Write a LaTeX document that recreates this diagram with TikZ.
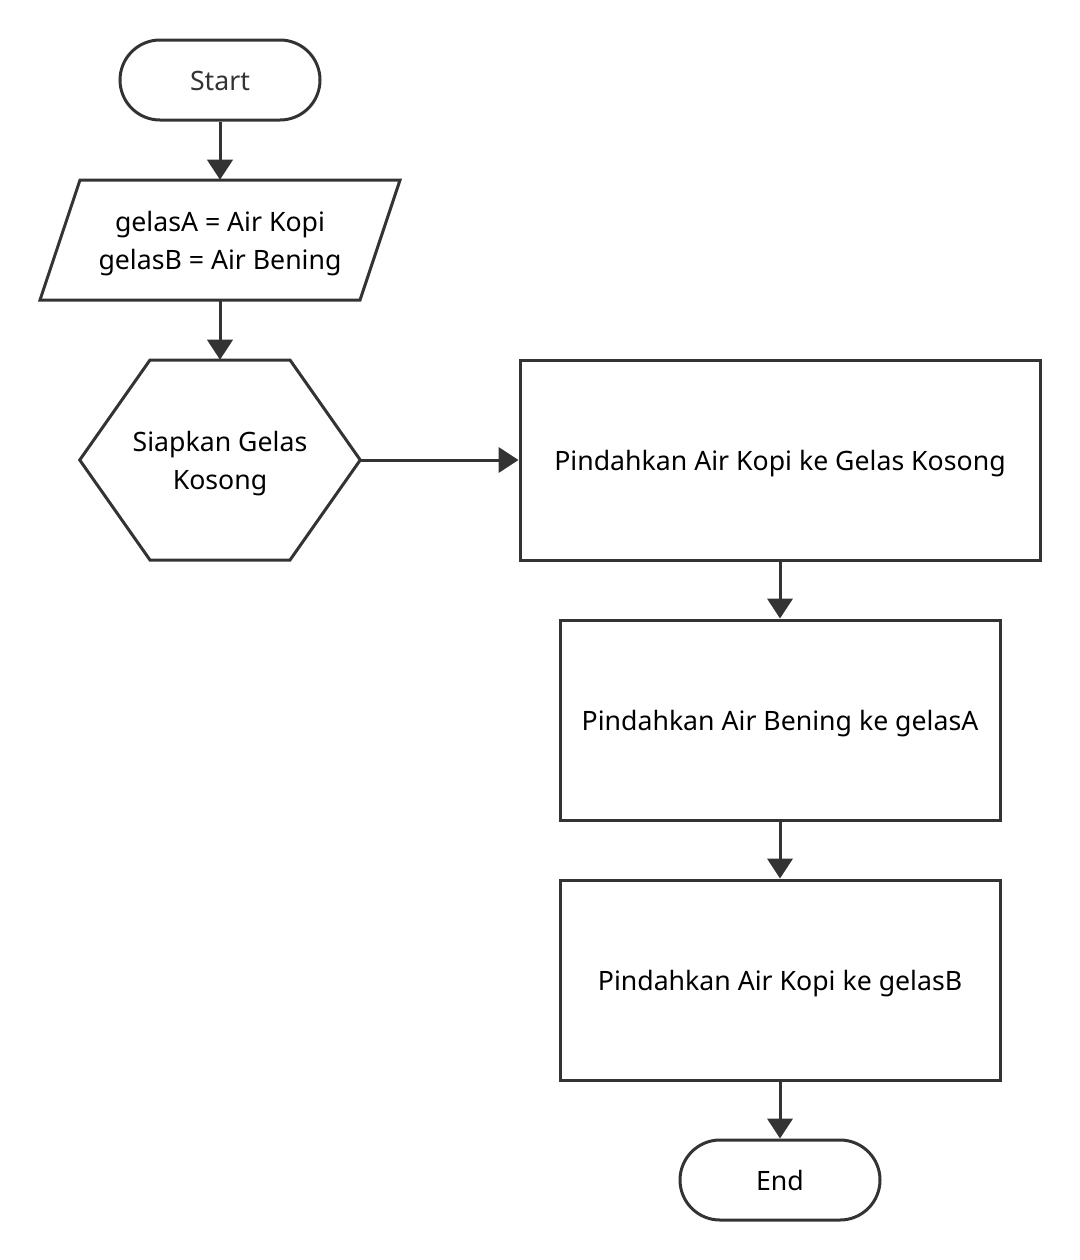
\documentclass[tikz,border=0pt]{standalone}
\usepackage{fontspec}
\setmainfont{Noto Sans}
\usetikzlibrary{arrows.meta,positioning}
\definecolor{ink}{HTML}{333333}

\begin{document}
\begin{tikzpicture}
		[x=0.75pt, y=-0.75pt,
		font=\fontsize{20}{28.5}\selectfont,
		every node/.style ={inner sep=0pt, align=center, text height=16pt, text depth=0pt},
		two lines/.style ={text height=44.5pt},
		term/.style ={draw=ink, line width=2.25pt, rounded corners=30pt, minimum width=150pt, minimum height=60pt},
		block/.style ={draw=ink, line width=2.25pt, minimum height=150pt},
		hidden/.style ={minimum width=#1, two lines},
		line/.style ={draw=ink, line width=2.25pt, -{Triangle[length=15pt,width=19pt]}}]
		\useasboundingbox (0,0) rectangle (1080,1260);
		\node[term, text=ink] (start) at (220,80) {Start};
		\node[hidden=270pt, minimum height=90pt] (io) at (220,240) {gelasA = Air Kopi\\gelasB = Air Bening};
		\node[hidden=210pt, minimum height=150pt] (prep) at (220,460) {Siapkan Gelas\\Kosong};
		\node[block, minimum width=390pt] (A) at (780,460) {Pindahkan Air Kopi ke Gelas Kosong};
		\node[block, minimum width=330pt] (B) at (780,720) {Pindahkan Air Bening ke gelasA};
		\node[block, minimum width=330pt] (C) at (780,980) {Pindahkan Air Kopi ke gelasB};
		\node[term] (end) at (780,1180) {End};
		% outlines of io and prep
		\draw[ink, line width=2.25pt] (80,180) -- (400,180) -- (360,300) -- (40,300) -- cycle;
		\draw[ink, line width=2.25pt] (150,360) -- (290,360) -- (prep.east) -- (290,560) -- (150,560) -- (prep.west) -- cycle;
		\path[line] (start) -- (io);
		\path[line] (io) -- (prep);
		\path[line] (prep) -- (A);
		\path[line] (A) -- (B);
		\path[line] (B) -- (C);
		\path[line] (C) -- (end);
	\end{tikzpicture}
\end{document}
